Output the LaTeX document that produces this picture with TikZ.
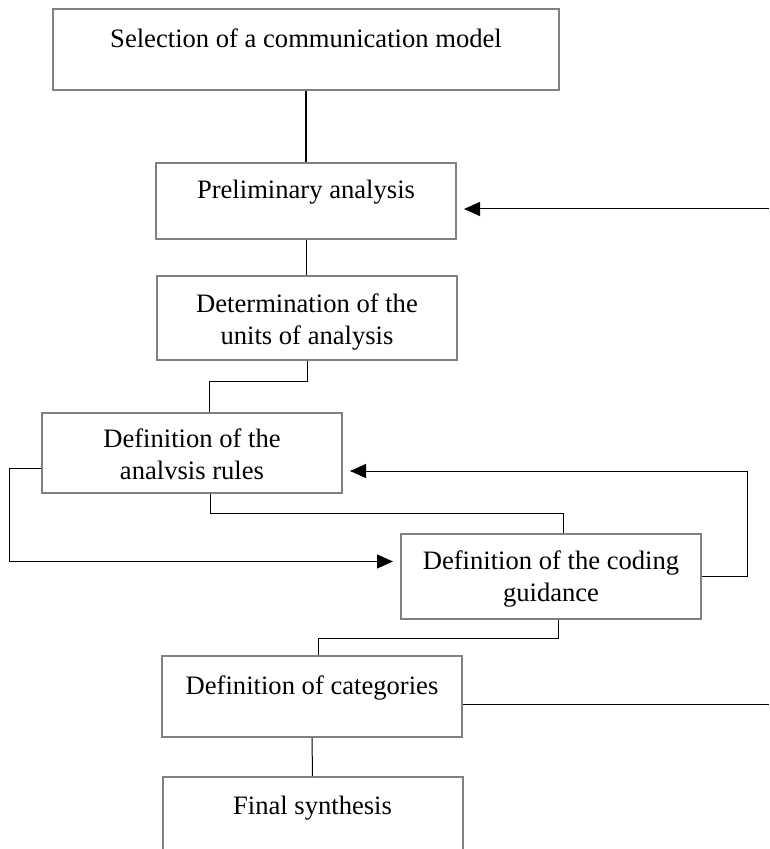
\documentclass[tikz,border=0pt]{standalone}
\usepackage{fontspec}
\setmainfont{Liberation Serif}
\usetikzlibrary{arrows.meta}

\begin{document}
\begin{tikzpicture}[x=0.5pt, y=-0.5pt,
	box/.style={draw=gray, line width=1pt, minimum width=150pt, minimum height=40.5pt, inner sep=0pt},
	txt/.style={anchor=north, align=center, inner sep=0pt, font=\fontsize{13.3}{16}\selectfont},
	link/.style={black, line width=0.5pt},
	arr/.style={link, -{Triangle[length=8pt, width=7pt]}, shorten >=3.5pt}]
	\path[use as bounding box, clip] (0,0) rectangle (769,849);
	% boxes, top to bottom
	\node[box, minimum width=253pt] (sel) at (306,49.5) {};
	\node[box, minimum height=38pt] (pre) at (306,201) {};
	\node[box, minimum height=42pt] (det) at (307,318) {};
	\node[box, minimum height=40pt] (ana) at (192,453) {};
	\node[box, minimum height=42.5pt] (cod) at (551,576.5) {};
	\node[box] (cat) at (312,696.5) {};
	\node[box] (fin) at (312.5,817.5) {};
	
	\node[txt] (sel-t) at ([yshift=-10.4pt]sel.north) {Selection of a communication model};
	\node[txt] (pre-t) at ([yshift=-8.9pt]pre.north) {Preliminary analysis};
	\node[txt] (det-t) at ([yshift=-9.4pt]det.north) {Determination of the\\units of analysis};
	\node[txt] (ana-t) at ([yshift=-8.4pt]ana.north) {Definition of the\\analvsis rules};
	\node[txt] (cod-t) at ([yshift=-8.9pt]cod.north) {Definition of the coding\\guidance};
	\node[txt] (cat-t) at ([yshift=-10.4pt]cat.north) {Definition of categories};
	\node[txt] (fin-t) at ([yshift=-9.9pt]fin.north) {Final synthesis};
	
	% links
	\draw[link, line width=1pt] (sel.south) -- (pre.north);
	\draw[link] (pre.south) -- (pre.south |- det.north);
	\draw[link] (det.south) -- ++(0,20) -| ([xshift=8.5pt]ana.north);
	\draw[link] ([xshift=9pt]ana.south) -- ++(0,19) -| ([xshift=6pt]cod.north);
	\draw[link] ([xshift=3.5pt]cod.south) -- ++(0,18) -| ([xshift=3pt]cat.north);
	\draw[link] (cat.south) -- (fin.north);
	% loops
	\draw[arr] ([yshift=-7.5pt]ana.west) -- ++(-32,0) |- ([yshift=7.5pt]cod.west);
	\draw[arr] (cod.east) -- ++(45,0) |- ([yshift=-9pt]ana.east);
	% lines leaving the frame
	\coordinate (pre-in) at (769,209);
	\coordinate (cat-out) at (769,704);
	\draw[arr] (pre-in) -- ([yshift=-4pt]pre.east);
	\draw[link] ([yshift=-3.75pt]cat.east) -- (cat-out);
\end{tikzpicture}
\end{document}
